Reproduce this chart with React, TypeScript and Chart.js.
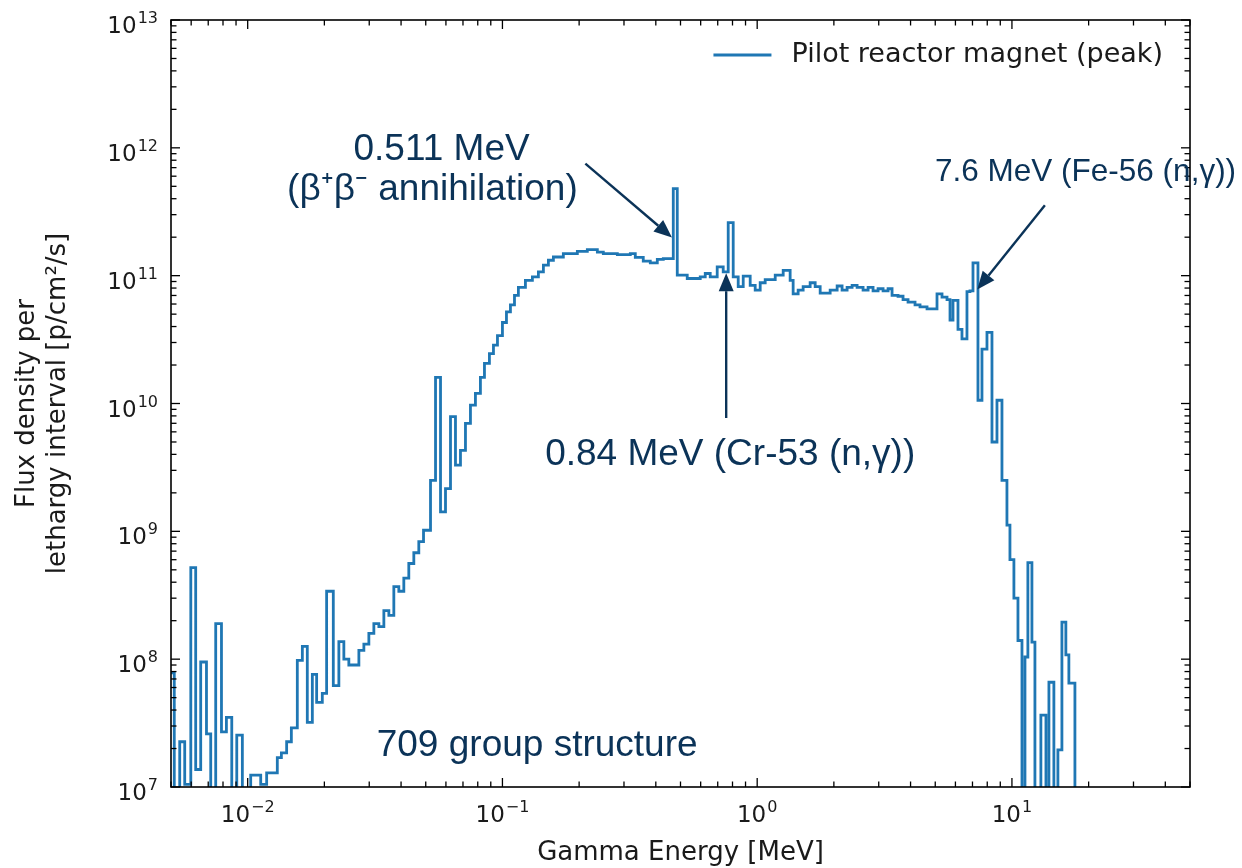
import React, { useEffect, useRef } from 'react';
import { Chart, registerables } from 'chart.js';

Chart.register(...registerables);

// Lower bin edges (MeV); the last entry is the upper edge of the last bin.
const binEdgesMeV = [
  0.0049, 0.00515, 0.00541, 0.00566, 0.00598, 0.00625, 0.00654, 0.00689, 0.00716, 0.00749,
  0.00789, 0.00825, 0.00866, 0.00906, 0.00953, 0.010276, 0.01125, 0.01187, 0.01307, 0.01356,
  0.01422, 0.01484, 0.01566, 0.01639, 0.01714, 0.01794, 0.01865, 0.01963, 0.02041, 0.02168,
  0.0228, 0.02385, 0.02495, 0.02732, 0.02858, 0.0299, 0.03128, 0.03273, 0.03424, 0.03582,
  0.03747, 0.0392, 0.04101, 0.0429, 0.04489, 0.04696, 0.049, 0.0522, 0.05462, 0.05714,
  0.05977, 0.06253, 0.06541, 0.06843, 0.07159, 0.07489, 0.07834, 0.08195, 0.085, 0.0889,
  0.0922, 0.0956, 0.1, 0.1037, 0.1075, 0.1115, 0.1155, 0.1231, 0.1311, 0.1384,
  0.1448, 0.1515, 0.1585, 0.1734, 0.1968, 0.2154, 0.2358, 0.2489, 0.2825, 0.3177,
  0.3323, 0.3571, 0.3805, 0.4054, 0.428, 0.4684, 0.4856, 0.5314, 0.5977, 0.6253,
  0.6541, 0.6967, 0.7356, 0.7696, 0.8051, 0.8424, 0.8814, 0.9387, 0.9821, 1.0276,
  1.075, 1.177, 1.265, 1.347, 1.384, 1.448, 1.515, 1.614, 1.689, 1.767,
  1.934, 2.06, 2.154, 2.254, 2.358, 2.467, 2.604, 2.725, 2.85, 2.982,
  3.12, 3.264, 3.384, 3.572, 3.737, 3.91, 4.165, 4.357, 4.642, 5.08,
  5.315, 5.561, 5.714, 5.87, 6.141, 6.366, 6.66, 6.843, 7.033, 7.356,
  7.627, 7.98, 8.349, 8.735, 9.138, 9.559, 9.822, 10.18, 10.56, 10.95,
  11.25, 11.55, 11.98, 12.31, 12.99, 13.6, 13.97, 14.61, 15.15, 15.71,
  16.28, 16.73, 17.67, 18.5,
];

// Flux density per lethargy interval [p/cm²/s] for each bin (values < 1e7 fall below the axis).
const fluxValues = [
  7.8e7, 5e6, 2.26e7, 1.05e7, 5.2e8, 1.37e7, 9.5e7, 2.6e7, 5e6, 1.9e8,
  2.7e7, 3.5e7, 5e6, 2.55e7, 5e6, 1.24e7, 1.05e7, 1.29e7, 1.7e7, 1.85e7,
  2.26e7, 2.9e7, 9.8e7, 1.26e8, 3.2e7, 7.6e7, 4.6e7, 5.4e7, 3.4e8, 6.2e7,
  1.37e8, 1.0e8, 9.0e7, 1.17e8, 1.31e8, 1.59e8, 1.9e8, 1.8e8, 2.4e8, 2.2e8,
  3.7e8, 3.4e8, 4.3e8, 5.6e8, 6.8e8, 8.3e8, 1.02e9, 2.5e9, 1.6e10, 1.42e9,
  2.16e9, 7.9e9, 3.3e9, 4.3e9, 7.0e9, 9.7e9, 1.2e10, 1.6e10, 2.06e10, 2.46e10,
  2.86e10, 3.4e10, 4.3e10, 5.2e10, 5.9e10, 7.0e10, 8.1e10, 9.2e10, 9.8e10, 1.07e11,
  1.21e11, 1.32e11, 1.40e11, 1.49e11, 1.55e11, 1.60e11, 1.53e11, 1.49e11, 1.46e11, 1.49e11,
  1.39e11, 1.30e11, 1.26e11, 1.34e11, 1.36e11, 4.8e11, 1.01e11, 9.5e10, 9.8e10, 1.04e11,
  9.8e10, 1.17e11, 1.07e11, 2.6e11, 9.8e10, 8.2e10, 9.9e10, 8.4e10, 7.7e10, 8.8e10,
  9.3e10, 1.01e11, 1.10e11, 9.2e10, 7.2e10, 7.7e10, 8.2e10, 8.8e10, 8.2e10, 7.3e10,
  7.7e10, 8.3e10, 7.7e10, 8.1e10, 8.4e10, 8.1e10, 7.7e10, 8.1e10, 7.6e10, 7.9e10,
  7.6e10, 7.9e10, 7.0e10, 6.9e10, 6.5e10, 6.2e10, 5.9e10, 5.7e10, 5.5e10, 7.2e10,
  6.8e10, 6.5e10, 4.5e10, 6.4e10, 3.8e10, 3.2e10, 7.5e10, 7.6e10, 1.26e11, 1.06e10,
  2.66e10, 3.6e10, 5.0e9, 1.06e10, 2.5e9, 1.12e9, 6.0e8, 3.0e8, 1.4e8, 5e6,
  1.04e8, 5.7e8, 1.36e8, 5e6, 3.65e7, 5e6, 6.6e7, 5e6, 1.95e7, 1.95e8,
  1.08e8, 6.5e7, 5e6,
];

const seriesLabel = 'Pilot reactor magnet (peak)';
const xAxisTitle = 'Gamma Energy [MeV]';
const yAxisTitleLines = ['Flux density per', 'lethargy interval [p/cm²/s]'];
const xTickExponents = [-2, -1, 0, 1];
const yTickExponents = [7, 8, 9, 10, 11, 12, 13];
const xRange = [0.005, 50];
const yRange = [1e7, 1e13];

// Annotation texts anchored in data coordinates (MeV, flux)
const annotationTexts = ['0.511 MeV', '(β⁺β⁻ annihilation)', '0.84 MeV (Cr-53 (n,γ))', '7.6 MeV (Fe-56 (n,γ))', '709 group structure'];
const annotationEnergies = [0.0577, 0.0531, 0.7834, 4.99, 0.0321];
const annotationFluxes = [9.6e11, 4.66e11, 3.95e9, 6.43e11, 2.09e7];
const annotationAligns = ['center', 'center', 'center', 'left', 'left'];
const annotationSizes = [37, 37, 37, 31.5, 37];

// Arrows: tail -> tip in data coordinates
const arrowTailEnergies = [0.2116, 0.7556, 13.47];
const arrowTailFluxes = [7.53e11, 7.7e9, 3.55e11];
const arrowTipEnergies = [0.4629, 0.7556, 7.31];
const arrowTipFluxes = [1.99e11, 1.045e11, 7.78e10];

const LINE_COLOR = '#1f77b4';
const NOTE_COLOR = '#0b3358';
const AXIS_COLOR = '#1a1a1a';

const decorPlugin = {
  id: 'decor',
  afterDraw(chart: any) {
    const { ctx, chartArea: a, scales } = chart;
    const xs = scales.x;
    const ys = scales.y;
    ctx.save();

    // frame
    ctx.strokeStyle = '#000';
    ctx.lineWidth = 1.6;
    ctx.strokeRect(a.left, a.top, a.right - a.left, a.bottom - a.top);

    // ticks (inward, all four sides)
    ctx.lineWidth = 1.3;
    const line = (x1: number, y1: number, x2: number, y2: number) => {
      ctx.beginPath();
      ctx.moveTo(x1, y1);
      ctx.lineTo(x2, y2);
      ctx.stroke();
    };
    for (let e = -3; e <= 2; e++) {
      for (let m = 1; m <= 9; m++) {
        const v = m * Math.pow(10, e);
        if (v < xRange[0] || v > xRange[1]) continue;
        const px = xs.getPixelForValue(v);
        const len = m === 1 ? 9 : 5.5;
        line(px, a.bottom, px, a.bottom - len);
        line(px, a.top, px, a.top + len);
      }
    }
    for (let e = 7; e <= 13; e++) {
      for (let m = 1; m <= 9; m++) {
        const v = m * Math.pow(10, e);
        if (v < yRange[0] || v > yRange[1]) continue;
        const py = ys.getPixelForValue(v);
        const len = m === 1 ? 9 : 5.5;
        line(a.left, py, a.left + len, py);
        line(a.right, py, a.right - len, py);
      }
    }

    // tick labels with superscripts
    const baseFont = '23px "DejaVu Sans"';
    const supFont = '16px "DejaVu Sans"';
    ctx.fillStyle = AXIS_COLOR;
    ctx.textBaseline = 'alphabetic';
    ctx.textAlign = 'left';
    const measure = (t: string, f: string) => {
      ctx.font = f;
      return ctx.measureText(t).width;
    };
    xTickExponents.forEach((ex) => {
      const px = xs.getPixelForValue(Math.pow(10, ex));
      const sup = ex < 0 ? '−' + Math.abs(ex) : String(ex);
      const w1 = measure('10', baseFont);
      const w2 = measure(sup, supFont);
      const start = px - (w1 + w2 + 1) / 2;
      ctx.font = baseFont;
      ctx.fillText('10', start, a.bottom + 35);
      ctx.font = supFont;
      ctx.fillText(sup, start + w1 + 1, a.bottom + 25);
    });
    yTickExponents.forEach((ex) => {
      const py = ys.getPixelForValue(Math.pow(10, ex));
      const sup = String(ex);
      const w1 = measure('10', baseFont);
      const w2 = measure(sup, supFont);
      const right = a.left - 13;
      const start = right - w2 - w1 - 1;
      ctx.font = baseFont;
      ctx.fillText('10', start, py + 13);
      ctx.font = supFont;
      ctx.fillText(sup, start + w1 + 1, py + 3);
    });

    // axis titles
    ctx.font = '26px "DejaVu Sans"';
    ctx.textAlign = 'center';
    ctx.textBaseline = 'middle';
    ctx.fillText(xAxisTitle, (a.left + a.right) / 2, a.bottom + 66);
    ctx.save();
    ctx.translate(0, (a.top + a.bottom) / 2);
    ctx.rotate(-Math.PI / 2);
    yAxisTitleLines.forEach((t, i) => {
      ctx.fillText(t, 0, 27 + i * 31);
    });
    ctx.restore();

    // legend
    ctx.font = '27px "DejaVu Sans"';
    ctx.textAlign = 'left';
    ctx.textBaseline = 'middle';
    const lw = ctx.measureText(seriesLabel).width;
    const tx = a.right - 27 - lw;
    const ly = a.top + 35;
    ctx.fillStyle = AXIS_COLOR;
    ctx.fillText(seriesLabel, tx, ly);
    ctx.strokeStyle = LINE_COLOR;
    ctx.lineWidth = 2.8;
    line(tx - 78, ly, tx - 20, ly);

    // annotations
    ctx.fillStyle = NOTE_COLOR;
    ctx.textBaseline = 'middle';
    annotationTexts.forEach((t, i) => {
      ctx.font = `${annotationSizes[i]}px "Liberation Sans", Arial, sans-serif`;
      ctx.textAlign = annotationAligns[i] as CanvasTextAlign;
      ctx.fillText(t, xs.getPixelForValue(annotationEnergies[i]), ys.getPixelForValue(annotationFluxes[i]));
    });

    // arrows
    ctx.strokeStyle = NOTE_COLOR;
    ctx.lineWidth = 2.4;
    arrowTailEnergies.forEach((_, i) => {
      const x1 = xs.getPixelForValue(arrowTailEnergies[i]);
      const y1 = ys.getPixelForValue(arrowTailFluxes[i]);
      const x2 = xs.getPixelForValue(arrowTipEnergies[i]);
      const y2 = ys.getPixelForValue(arrowTipFluxes[i]);
      const ang = Math.atan2(y2 - y1, x2 - x1);
      const hl = 18;
      const hw = 7.5;
      const bx = x2 - hl * Math.cos(ang);
      const by = y2 - hl * Math.sin(ang);
      line(x1, y1, bx, by);
      ctx.beginPath();
      ctx.moveTo(x2, y2);
      ctx.lineTo(bx + hw * Math.sin(ang), by - hw * Math.cos(ang));
      ctx.lineTo(bx - hw * Math.sin(ang), by + hw * Math.cos(ang));
      ctx.closePath();
      ctx.fill();
    });

    ctx.restore();
  },
};

export default function App() {
  const canvasRef = useRef<HTMLCanvasElement | null>(null);

  useEffect(() => {
    if (!canvasRef.current) return;
    const points = fluxValues.map((v, i) => ({ x: binEdgesMeV[i], y: v }));
    points.push({ x: binEdgesMeV[fluxValues.length], y: fluxValues[fluxValues.length - 1] });

    const chart = new Chart(canvasRef.current, {
      type: 'line',
      data: {
        datasets: [
          {
            label: seriesLabel,
            data: points,
            borderColor: LINE_COLOR,
            borderWidth: 2.8,
            pointRadius: 0,
            stepped: true,
            fill: false,
            clip: 0,
          } as any,
        ],
      },
      options: {
        animation: false,
        responsive: false,
        devicePixelRatio: 1,
        layout: { padding: { left: 171, top: 20, right: 52, bottom: 81 } },
        scales: {
          x: { type: 'logarithmic', min: xRange[0], max: xRange[1], display: false },
          y: { type: 'logarithmic', min: yRange[0], max: yRange[1], display: false },
        },
        plugins: { legend: { display: false }, tooltip: { enabled: false } },
      },
      plugins: [decorPlugin],
    });
    return () => chart.destroy();
  }, []);

  return (
    <div style={{ position: 'fixed', left: 0, top: 0, width: 1242, height: 868, background: '#fff' }}>
      <canvas ref={canvasRef} width={1242} height={868} />
    </div>
  );
}
